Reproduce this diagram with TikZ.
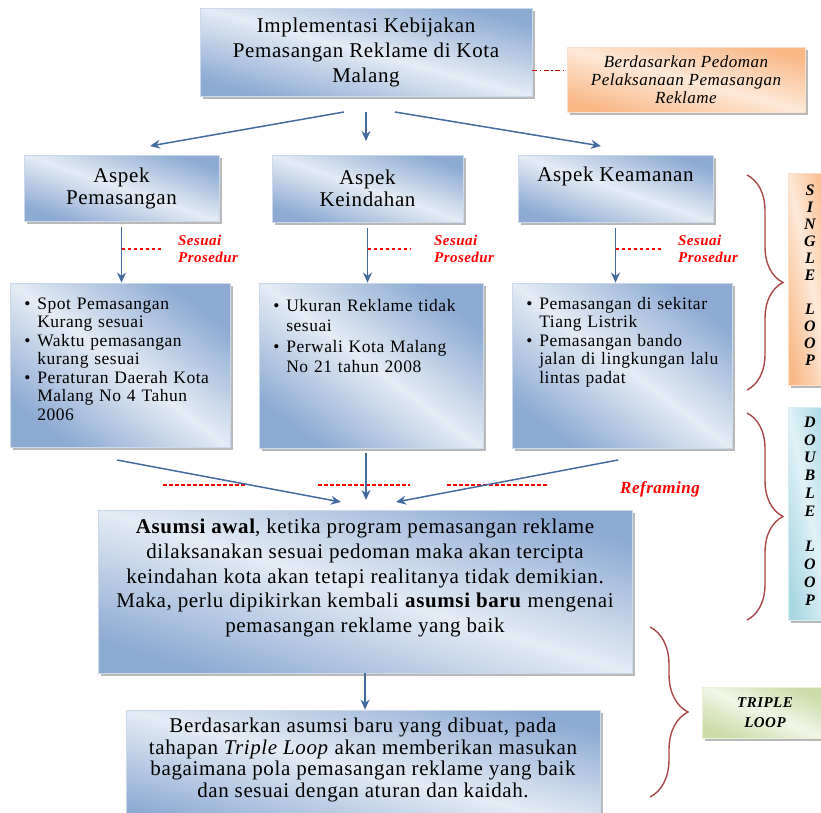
\documentclass[tikz,border=0pt]{standalone}
\usepackage{fontspec}
\setmainfont{Liberation Serif}[LetterSpace=3]
\usetikzlibrary{arrows.meta}
\usetikzlibrary{shadows}
\usetikzlibrary{decorations.pathreplacing}

\definecolor{boxBlueDark}{RGB}{141,170,210}
\definecolor{boxBlueLight}{RGB}{228,236,245}
\definecolor{boxOrangeDark}{RGB}{249,184,135}
\definecolor{boxOrangeLight}{RGB}{253,233,216}
\definecolor{boxCyanDark}{RGB}{168,214,227}
\definecolor{boxCyanLight}{RGB}{224,241,246}
\definecolor{boxGreenDark}{RGB}{203,220,170}
\definecolor{boxGreenLight}{RGB}{241,246,230}
\definecolor{arrowBlue}{RGB}{68,106,158}
\definecolor{braceRed}{RGB}{168,72,72}
\definecolor{linkRed}{RGB}{192,0,0}

\pgfdeclarehorizontalshading{blueShade}{100bp}{color(0bp)=(boxBlueDark); color(25bp)=(boxBlueDark); color(50bp)=(boxBlueLight); color(75bp)=(boxBlueDark); color(100bp)=(boxBlueDark)}
\pgfdeclarehorizontalshading{orangeShade}{100bp}{color(0bp)=(boxOrangeDark); color(25bp)=(boxOrangeDark); color(50bp)=(boxOrangeLight); color(75bp)=(boxOrangeDark); color(100bp)=(boxOrangeDark)}
\pgfdeclarehorizontalshading{cyanShade}{100bp}{color(0bp)=(boxCyanDark); color(25bp)=(boxCyanDark); color(50bp)=(boxCyanLight); color(75bp)=(boxCyanDark); color(100bp)=(boxCyanDark)}
\pgfdeclarehorizontalshading{greenShade}{100bp}{color(0bp)=(boxGreenDark); color(25bp)=(boxGreenDark); color(50bp)=(boxGreenLight); color(75bp)=(boxGreenDark); color(100bp)=(boxGreenDark)}

% one bullet point with hanging indent
\newcommand{\listItem}[1]{\par\hangindent=13pt\hangafter=1\noindent\makebox[13pt][l]{\textbullet}#1\par}

\begin{document}
\begin{tikzpicture}[x=1pt,y=-1pt,
        flowArrow/.style = {draw=arrowBlue,line width=1.5pt,-{Stealth[length=10pt,width=9pt]}},
        boxShadow/.style = {drop shadow={shadow xshift=2.5pt,shadow yshift=-2.5pt,fill=black!50,opacity=0.55}},
        blueBox/.style = {shade,shading=blueShade,shading angle=#1,draw=white!55!boxBlueDark,line width=0.8pt,inner sep=0pt,boxShadow},
        orangeBox/.style = {shade,shading=orangeShade,shading angle=#1,draw=white!55!boxOrangeDark,line width=0.8pt,inner sep=0pt,boxShadow},
        cyanBox/.style = {shade,shading=cyanShade,shading angle=#1,draw=white!55!boxCyanDark,line width=0.8pt,inner sep=0pt,boxShadow},
        greenBox/.style = {shade,shading=greenShade,shading angle=#1,draw=white!55!boxGreenDark,line width=0.8pt,inner sep=0pt,boxShadow},
        listText/.style = {anchor=north west,text width=210pt,align=left,inner sep=0pt,font=\fontsize{17.5}{18.5}\selectfont},
        redDash/.style = {draw=red,line width=1.1pt,dash pattern=on 3.5pt off 2.5pt},
        planLink/.style = {draw=linkRed,line width=0.8pt,dash pattern=on 5pt off 2.5pt on 1.5pt off 2.5pt},
        redLabel/.style = {text=red,font=\fontsize{15}{17}\selectfont\bfseries\itshape,align=left,inner sep=0pt},
        loopBrace/.style = {draw=braceRed,line width=1.4pt,decorate,decoration={brace,amplitude=36pt}},
        loopText/.style = {font=\fontsize{16}{17}\selectfont\bfseries\itshape,align=center,inner sep=0pt}
        ]
        \useasboundingbox (0,0) rectangle (821,812);

        % top of the chart
        \node[blueBox=75,minimum width=332pt,minimum height=88pt,align=center,font=\fontsize{21}{25}\selectfont] (topBox) at (366,52) {Implementasi Kebijakan\\Pemasangan Reklame di Kota\\Malang};
        \node[orangeBox=75,minimum width=238pt,minimum height=65pt,align=center,font=\fontsize{17}{18}\selectfont\itshape] (planBox) at (686,79.5) {Berdasarkan Pedoman\\Pelaksanaan Pemasangan\\Reklame};
        \draw[planLink] ([yshift=-18pt]topBox.east) -- ([yshift=9.5pt]planBox.west);

        % three aspects
        \node[blueBox=71,minimum width=195pt,minimum height=66pt,align=center,font=\fontsize{21}{22}\selectfont] (aspA) at (121.5,188) {Aspek\\Pemasangan};
        \node[blueBox=71,minimum width=191pt,minimum height=67pt,align=center,font=\fontsize{21}{22}\selectfont] (aspB) at (367.5,188.5) {Aspek\\Keindahan};
        \node[blueBox=71,minimum width=195pt,minimum height=67pt,align=center,font=\fontsize{21}{22}\selectfont] (aspC) at (615.5,188.5) {Aspek Keamanan\\\mbox{\strut}};

        \coordinate (topOutL) at (344,112);
        \coordinate (topOutM) at (366,112);
        \coordinate (topOutR) at (395,112);
        \coordinate (aspInA) at (150,146);
        \coordinate (aspInB) at (366,141);
        \coordinate (aspInC) at (601,146);
        \draw[flowArrow] (topOutL) -- (aspInA);
        \draw[flowArrow] (topOutM) -- (aspInB);
        \draw[flowArrow] (topOutR) -- (aspInC);

        % findings per aspect
        \node[blueBox=53,minimum width=220pt,minimum height=164pt] (listA) at (120,365) {};
        \node[blueBox=53,minimum width=224pt,minimum height=165pt] (listB) at (371,365.5) {};
        \node[blueBox=53,minimum width=220pt,minimum height=165pt] (listC) at (622,365.5) {};
        \node[listText] (listAText) at ([xshift=14.5pt,yshift=-8pt]listA.north west) {\listItem{Spot Pemasangan\newline Kurang sesuai}\listItem{Waktu pemasangan\newline kurang sesuai}\listItem{Peraturan Daerah Kota\newline Malang No 4 Tahun\newline 2006}};
        \node[listText,font=\fontsize{17.5}{20.5}\selectfont] (listBText) at ([xshift=14.5pt,yshift=-8pt]listB.north west) {\listItem{Ukuran Reklame tidak\newline sesuai}\listItem{Perwali Kota Malang\newline No 21 tahun 2008}};
        \node[listText] (listCText) at ([xshift=14.5pt,yshift=-8pt]listC.north west) {\listItem{Pemasangan di sekitar\newline Tiang Listrik}\listItem{Pemasangan bando\newline jalan di lingkungan lalu\newline lintas padat}};

        \draw[flowArrow] ([yshift=-6pt]aspA.south) -- (aspA.south |- listA.north);
        \draw[flowArrow] ([yshift=-6pt]aspB.south) -- (aspB.south |- listB.north);
        \draw[flowArrow] ([yshift=-6pt]aspC.south) -- (aspC.south |- listC.north);

        \node[redLabel,anchor=west] (prosA) at (178,249) {Sesuai\\Prosedur};
        \node[redLabel,anchor=west] (prosB) at (434,249) {Sesuai\\Prosedur};
        \node[redLabel,anchor=west] (prosC) at (678,249) {Sesuai\\Prosedur};
        \draw[redDash] (aspA.south |- prosA.west) -- ([xshift=-15pt]prosA.west);
        \draw[redDash] (aspB.south |- prosB.west) -- ([xshift=-24pt]prosB.west);
        \draw[redDash] (aspC.south |- prosC.west) -- ([xshift=-16pt]prosC.west);

        % reframing
        \node[redLabel,anchor=base west,font=\fontsize{17}{19}\selectfont\bfseries\itshape] (reframing) at (620,493) {Reframing};
        \foreach \xa/\xb in {163/245,318/410,447/549}
            \draw[redDash] (\xa,485) -- (\xb,485);

        \coordinate (listOutA) at (117,460);
        \coordinate (listOutB) at (366,453);
        \coordinate (listOutC) at (618,460);
        \coordinate (asumInL) at (341,502);
        \coordinate (asumInM) at (366,500);
        \coordinate (asumInR) at (396,502);
        \draw[flowArrow] (listOutA) -- (asumInL);
        \draw[flowArrow] (listOutB) -- (asumInM);
        \draw[flowArrow] (listOutC) -- (asumInR);

        % assumptions
        \node[blueBox=73,minimum width=534pt,minimum height=163pt] (asumsi) at (365,591.5) {};
        \node[align=center,inner sep=0pt,font=\fontsize{21}{24.8}\selectfont] (asumsiText) at (365,578) {\textbf{Asumsi awal}, ketika program pemasangan reklame\\dilaksanakan sesuai pedoman maka akan tercipta\\keindahan kota akan tetapi realitanya tidak demikian.\\Maka, perlu dipikirkan kembali \textbf{asumsi baru} mengenai\\pemasangan reklame yang baik};
        \node[blueBox=76,minimum width=474pt,minimum height=120pt] (triple) at (363,770) {};
        \node[align=center,inner sep=0pt,font=\fontsize{21}{21.5}\selectfont] (tripleText) at (363,760) {Berdasarkan asumsi baru yang dibuat, pada\\tahapan \textit{Triple Loop} akan memberikan masukan\\bagaimana pola pemasangan reklame yang baik\\dan sesuai dengan aturan dan kaidah.};
        \draw[flowArrow] (asumsi.south) -- (asumsi.south |- triple.north);

        % loop levels
        \node[orangeBox=12,minimum width=44pt,minimum height=212pt] (singleBox) at (810,279) {};
        \node[loopText] (singleText) at (810,275) {S\\I\\N\\G\\L\\E\\[17pt]L\\O\\O\\P};
        \node[cyanBox=12,minimum width=44pt,minimum height=213pt] (doubleBox) at (810,513.5) {};
        \node[loopText,font=\fontsize{16}{17.8}\selectfont\bfseries\itshape] (doubleText) at (810,511) {D\\O\\U\\B\\L\\E\\[17.8pt]L\\O\\O\\P};
        \node[greenBox=67,minimum width=122pt,minimum height=51pt] (tripleBox) at (763,712.5) {};
        \node[loopText,font=\fontsize{15}{20}\selectfont\bfseries\itshape] (tripleLoopText) at (765,713) {TRIPLE\\LOOP};

        \draw[loopBrace] (747,175) -- (747,390);
        \draw[loopBrace] (747,413) -- (747,620);
        \draw[loopBrace,decoration={brace,amplitude=38pt}] (650,627) -- (650,797);
    \end{tikzpicture}
\end{document}
